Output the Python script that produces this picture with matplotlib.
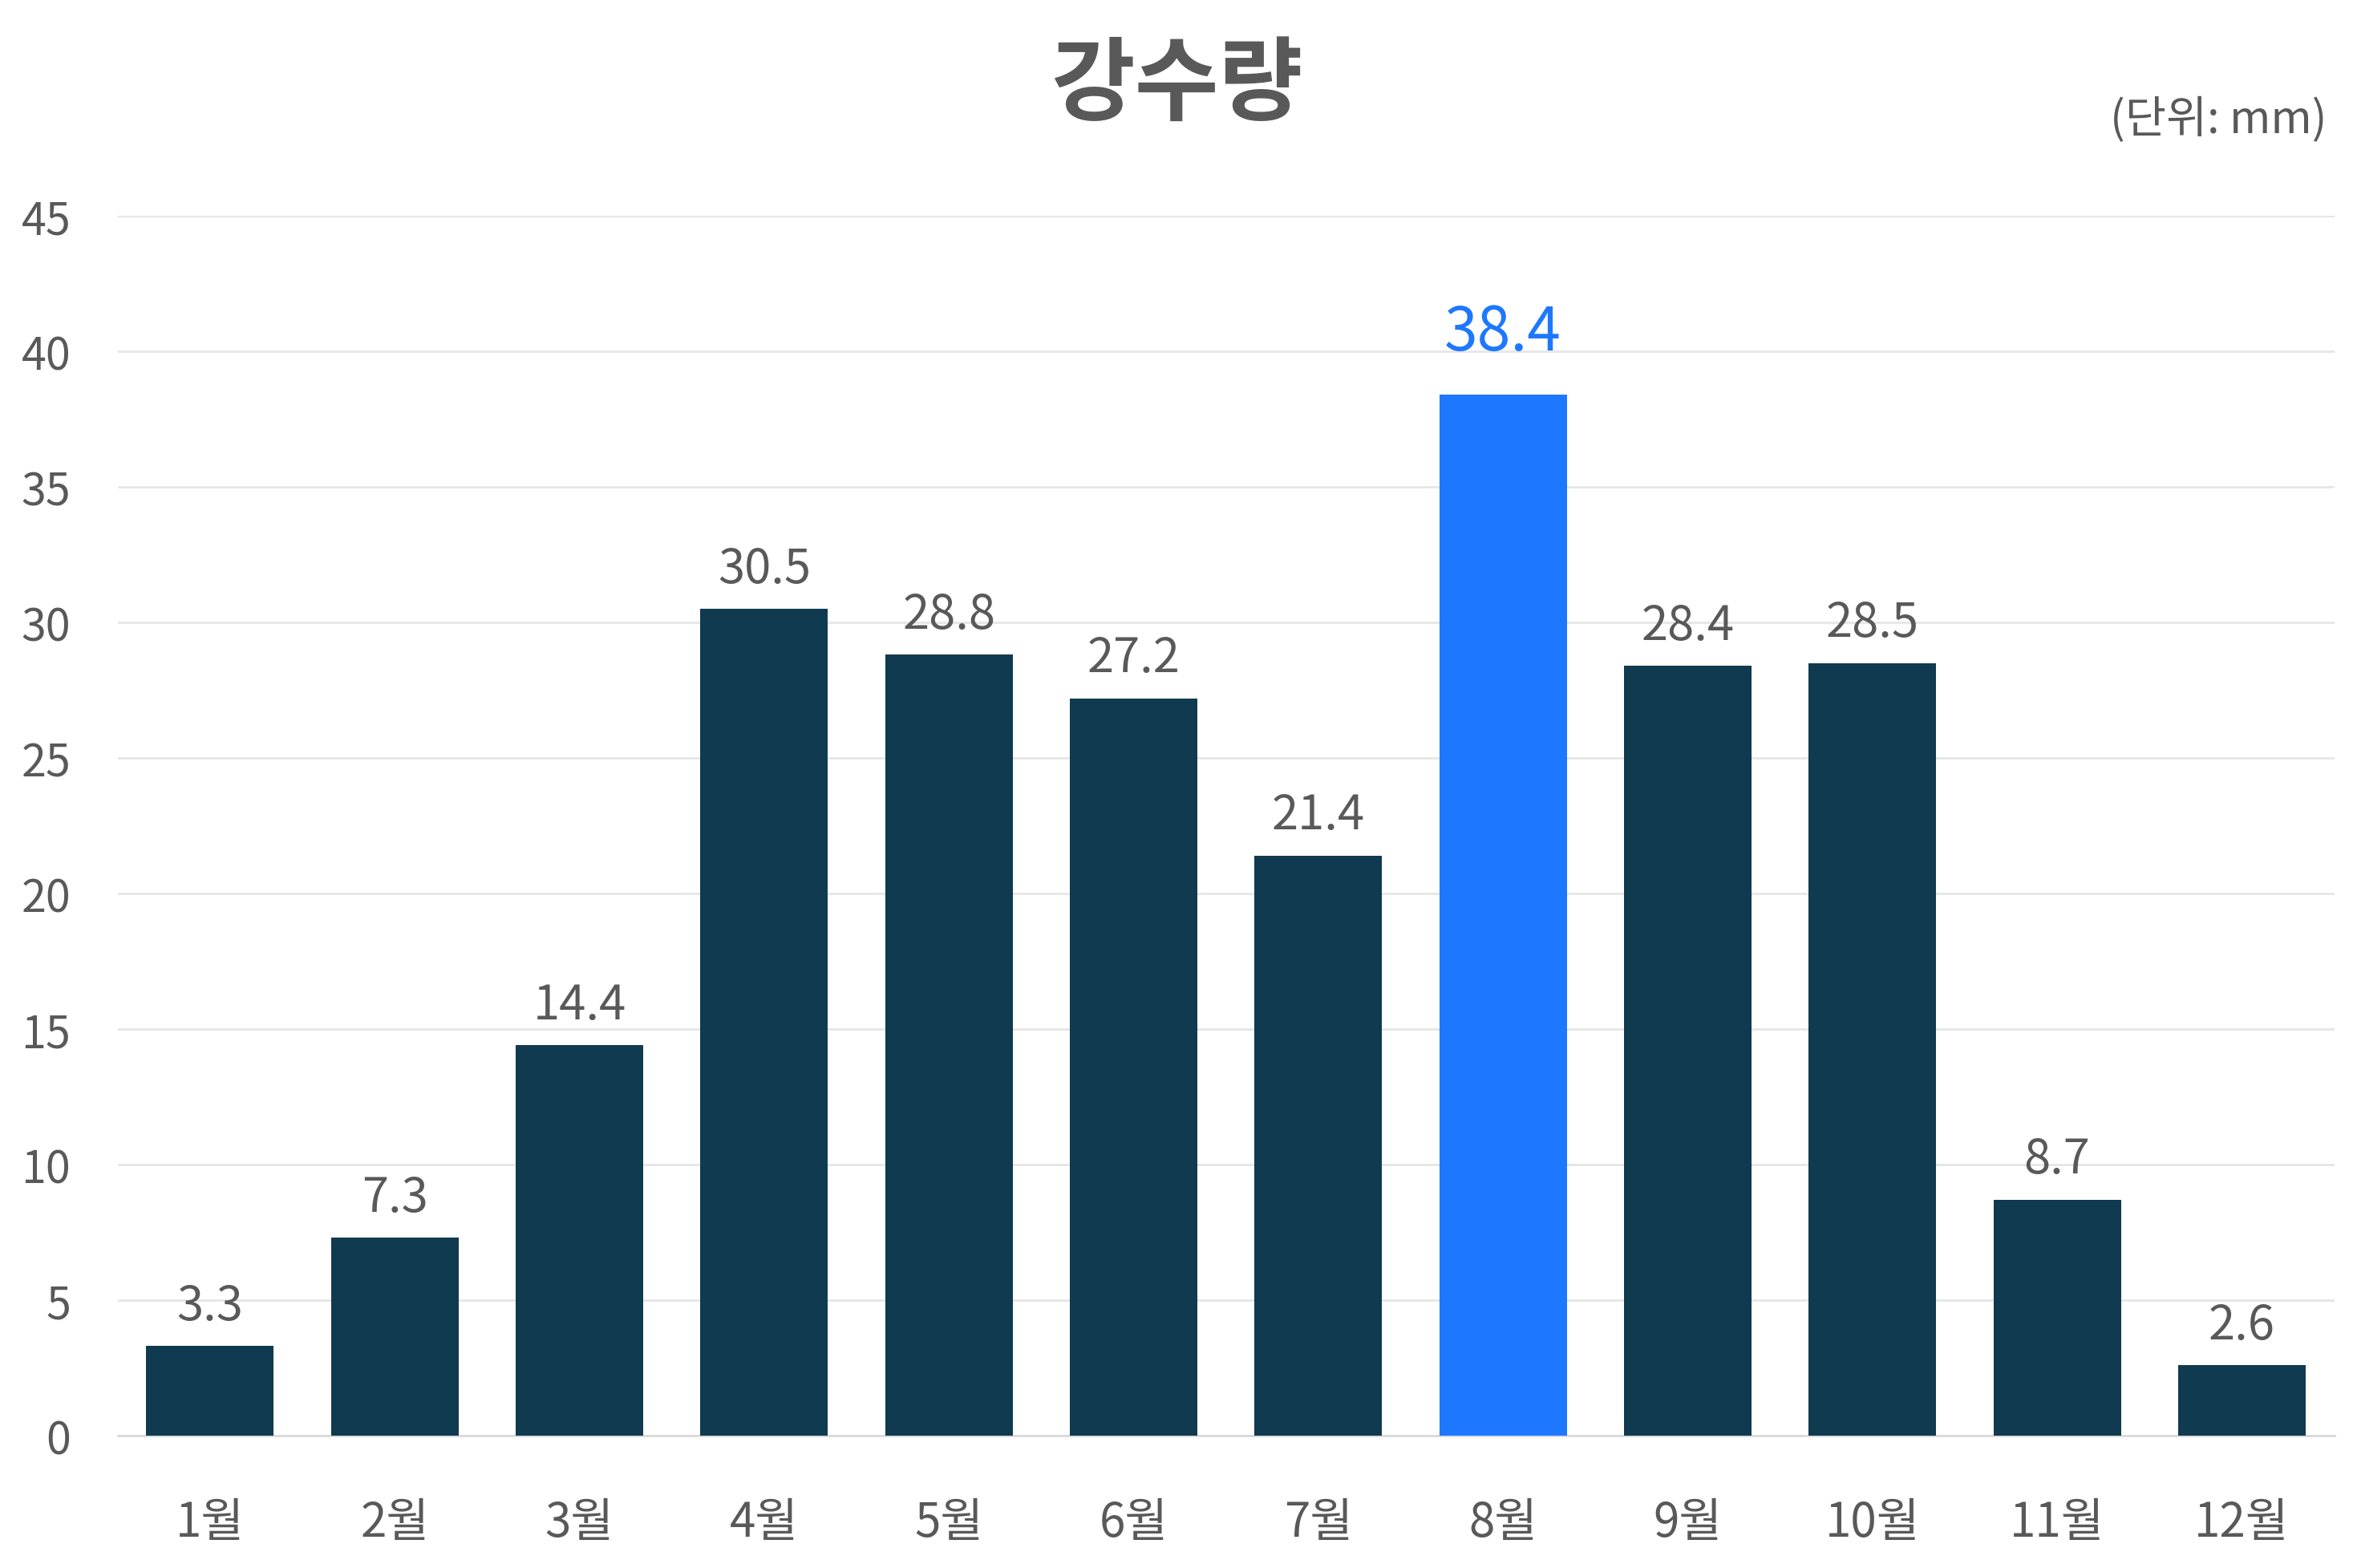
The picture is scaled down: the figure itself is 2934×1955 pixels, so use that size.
import numpy as np
import matplotlib
matplotlib.use('Agg')
from matplotlib import pyplot as plt

plt.rcParams['font.family'] = ['Noto Sans CJK KR', 'DejaVu Sans']

months = ['1월', '2월', '3월', '4월', '5월', '6월', '7월', '8월', '9월', '10월', '11월', '12월']
rain = [3.3, 7.3, 14.4, 30.5, 28.8, 27.2, 21.4, 38.4, 28.4, 28.5, 8.7, 2.6]
highlight = '8월'
yticks = [0, 5, 10, 15, 20, 25, 30, 35, 40, 45]

TEXT = '#595959'
DARK = '#0f3a4f'
BLUE = '#1e78ff'


def draw():
    fig = plt.figure(figsize=(14.67, 9.78), dpi=200)
    ax = fig.add_axes([0.050, 0.0844, 0.942, 0.7776])

    x = np.arange(len(months))
    colors = [BLUE if m == highlight else DARK for m in months]
    ax.bar(x, rain, width=0.69, color=colors, zorder=3)

    for xi, m, v in zip(x, months, rain):
        if m == highlight:
            ax.annotate(f'{v:.1f}', (xi, v), xytext=(0, 28), textcoords='offset points',
                        ha='center', va='center', fontsize=27, color=BLUE)
        else:
            ax.annotate(f'{v:.1f}', (xi, v), xytext=(0, 18), textcoords='offset points',
                        ha='center', va='center', fontsize=21.5, color=TEXT)

    ax.set_xlim(-0.5, len(months) - 0.5)
    ax.set_ylim(0, 45)
    ax.set_yticks(yticks)
    ax.set_xticks(x)
    ax.set_xticklabels(months)
    ax.tick_params(axis='y', length=0, pad=21, labelsize=20, labelcolor=TEXT)
    ax.tick_params(axis='x', length=0, pad=28, labelsize=21, labelcolor=TEXT)

    ax.grid(axis='y', color='#e6e6e6', linewidth=1.0, zorder=0)
    for s in ['top', 'right', 'left']:
        ax.spines[s].set_visible(False)
    ax.spines['bottom'].set_color('#d9d9d9')
    ax.spines['bottom'].set_linewidth(1.0)

    fig.text(0.5, 0.945, '강수량', ha='center', va='center', fontsize=41,
             fontweight='bold', color=TEXT)
    fig.text(0.989, 0.923, '(단위: mm)', ha='right', va='center', fontsize=20, color=TEXT)

    fig.savefig('out.png', dpi=200, facecolor='white')


if __name__ == '__main__':
    draw()
